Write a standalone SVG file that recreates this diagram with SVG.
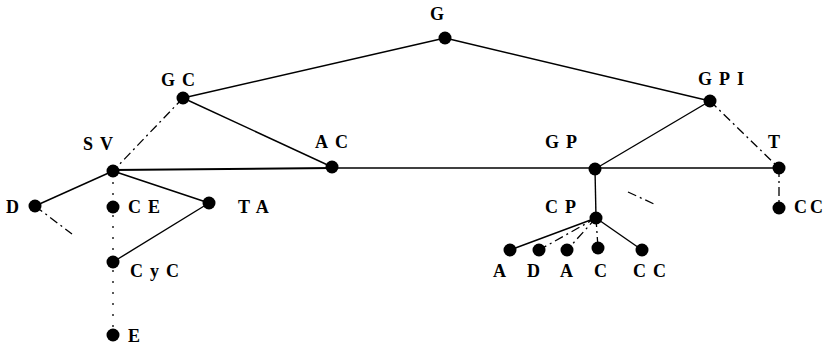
<svg xmlns="http://www.w3.org/2000/svg" width="828" height="347" viewBox="0 0 828 347">
<style>
.n{fill:#000}
.t{font-family:"Liberation Serif",serif;font-weight:bold;font-size:18px;letter-spacing:7px;fill:#000}
.s{stroke:#000;stroke-width:1.4;fill:none}
.d{stroke:#000;stroke-width:1.3;fill:none;stroke-dasharray:9 4 2 4}
.o{stroke:#000;stroke-width:1.3;fill:none;stroke-dasharray:2 9}
</style>
<rect width="828" height="347" fill="#fff"/>
<g id="connectors">
<line class="s" x1="445" y1="38" x2="183" y2="98"/>
<line class="s" x1="445" y1="38" x2="710" y2="101"/>
<line class="d" x1="183" y1="98" x2="113" y2="171"/>
<line class="s" x1="183" y1="98" x2="332" y2="167"/>
<line class="s" x1="710" y1="101" x2="595" y2="169"/>
<line class="d" x1="710" y1="101" x2="779" y2="168"/>
<line stroke="#000" stroke-width="2" x1="113" y1="170" x2="332" y2="168"/>
<line class="s" x1="332" y1="168" x2="779" y2="168"/>
<line class="s" x1="113" y1="171" x2="35" y2="206"/>
<line class="d" x1="35" y1="206" x2="72" y2="234"/>
<line class="s" x1="113" y1="171" x2="209" y2="203"/>
<line class="s" x1="209" y1="203" x2="113" y2="262"/>
<line class="o" x1="113" y1="171" x2="113" y2="335"/>
<line class="s" x1="595" y1="169" x2="596" y2="218"/>
<line class="d" x1="628" y1="192" x2="654" y2="204"/>
<line class="s" x1="596" y1="218" x2="510" y2="250"/>
<line class="d" x1="596" y1="218" x2="539" y2="250"/>
<line class="d" x1="596" y1="218" x2="567" y2="250"/>
<line class="d" x1="596" y1="218" x2="598" y2="248"/>
<line class="s" x1="596" y1="218" x2="642" y2="250"/>
<line class="d" x1="779" y1="168" x2="779" y2="208"/>
</g>
<g id="G"><circle class="n" cx="445" cy="38" r="6.5"/><text class="t" x="430" y="20">G</text></g>
<g id="GC"><circle class="n" cx="183" cy="98" r="6.5"/><text class="t" x="161" y="86">GC</text></g>
<g id="GPI"><circle class="n" cx="710" cy="101" r="6.5"/><text class="t" x="698" y="85">GPI</text></g>
<g id="SV"><circle class="n" cx="113" cy="171" r="6.5"/><text class="t" x="83" y="150">SV</text></g>
<g id="AC"><circle class="n" cx="332" cy="167" r="6.5"/><text class="t" x="315" y="148">AC</text></g>
<g id="GP"><circle class="n" cx="595" cy="169" r="6.5"/><text class="t" x="545" y="148">GP</text></g>
<g id="T"><circle class="n" cx="779" cy="168" r="6.5"/><text class="t" x="768" y="148">T</text></g>
<g id="D"><circle class="n" cx="35" cy="206" r="6.5"/><text class="t" x="6" y="213">D</text></g>
<g id="CE"><circle class="n" cx="113" cy="207" r="6.5"/><text class="t" x="128" y="213">CE</text></g>
<g id="TA"><circle class="n" cx="209" cy="203" r="6.5"/><text class="t" x="238" y="213">TA</text></g>
<g id="CyC"><circle class="n" cx="113" cy="262" r="6.5"/><text class="t" x="130" y="277">CyC</text></g>
<g id="E"><circle class="n" cx="113" cy="335" r="6.5"/><text class="t" x="128" y="342">E</text></g>
<g id="CP"><circle class="n" cx="596" cy="218" r="6.5"/><text class="t" x="545" y="213">CP</text></g>
<g id="CC1"><circle class="n" cx="779" cy="208" r="6.5"/><text class="t" x="794" y="213" style="letter-spacing:3px">CC</text></g>
<g id="A1"><circle class="n" cx="510" cy="250" r="6.5"/><text class="t" x="493" y="277">A</text></g>
<g id="D2"><circle class="n" cx="539" cy="250" r="6.5"/><text class="t" x="527" y="277">D</text></g>
<g id="A2"><circle class="n" cx="567" cy="250" r="6.5"/><text class="t" x="560" y="277">A</text></g>
<g id="C"><circle class="n" cx="598" cy="248" r="6.5"/><text class="t" x="594" y="277">C</text></g>
<g id="CC2"><circle class="n" cx="642" cy="250" r="6.5"/><text class="t" x="633" y="277">CC</text></g>
</svg>
